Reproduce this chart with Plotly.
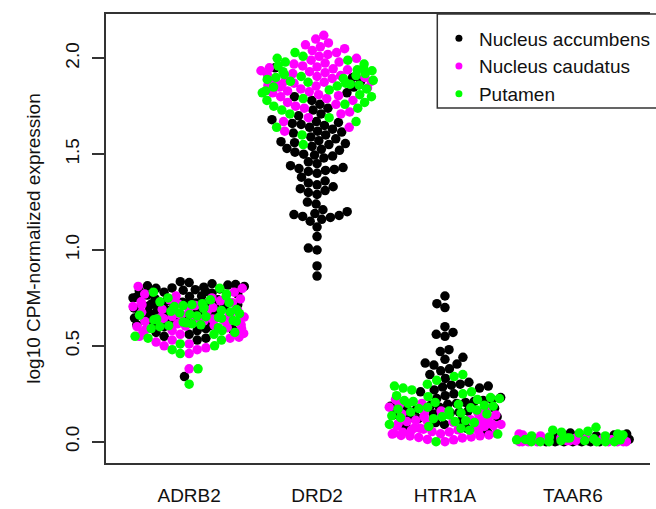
import math
import plotly.graph_objects as go

genes = ["ADRB2", "DRD2", "HTR1A", "TAAR6"]
tissues = ["Nucleus accumbens", "Nucleus caudatus", "Putamen"]
colors = ["#000000", "#FF00FF", "#00FF00"]

# ---- values (log10 CPM) ----
acc_adrb2 = [0.34, 0.53, 0.54, 0.55, 0.56, 0.57, 0.58, 0.585, 0.59, 0.60, 0.605, 0.61, 0.615, 0.62, 0.625,
             0.63, 0.632, 0.638, 0.64, 0.645, 0.65, 0.652, 0.657, 0.66, 0.663, 0.668, 0.67, 0.674, 0.678,
             0.68, 0.684, 0.688, 0.69, 0.694, 0.698, 0.70, 0.703, 0.708, 0.71, 0.714, 0.718, 0.72, 0.724,
             0.728, 0.73, 0.735, 0.74, 0.745, 0.75, 0.753, 0.757, 0.76, 0.765, 0.77, 0.775, 0.78, 0.783,
             0.787, 0.79, 0.793, 0.797, 0.80, 0.802, 0.806, 0.81, 0.813, 0.817, 0.82, 0.824, 0.83, 0.835]
cau_adrb2 = [0.38, 0.46, 0.48, 0.49, 0.50, 0.51, 0.52, 0.53, 0.54, 0.545, 0.55, 0.56, 0.565, 0.57, 0.58,
             0.585, 0.59, 0.595, 0.60, 0.603, 0.607, 0.61, 0.615, 0.62, 0.623, 0.627, 0.63, 0.633, 0.637,
             0.64, 0.643, 0.647, 0.65, 0.653, 0.657, 0.66, 0.664, 0.668, 0.67, 0.675, 0.68, 0.685, 0.69,
             0.695, 0.70, 0.705, 0.71, 0.715, 0.72, 0.725, 0.73, 0.735, 0.74, 0.745, 0.75, 0.76, 0.77,
             0.78, 0.80, 0.81]
put_adrb2 = [0.30, 0.38, 0.46, 0.48, 0.50, 0.51, 0.53, 0.54, 0.55, 0.56, 0.57, 0.58, 0.59, 0.595, 0.60,
             0.605, 0.61, 0.615, 0.62, 0.624, 0.628, 0.632, 0.636, 0.64, 0.644, 0.648, 0.652, 0.656,
             0.66, 0.664, 0.668, 0.672, 0.676, 0.68, 0.685, 0.69, 0.695, 0.70, 0.705, 0.71, 0.715, 0.72,
             0.725, 0.73, 0.74, 0.75, 0.76, 0.77, 0.78, 0.80]

acc_drd2 = [0.864, 0.917, 1.00, 1.01, 1.07, 1.12, 1.15, 1.16, 1.17, 1.175, 1.18, 1.185, 1.19, 1.20, 1.21,
            1.24, 1.25, 1.29, 1.30, 1.31, 1.32, 1.33, 1.34, 1.35, 1.36, 1.38, 1.40, 1.41, 1.415, 1.42,
            1.425, 1.43, 1.44, 1.45, 1.46, 1.48, 1.49, 1.495, 1.50, 1.51, 1.52, 1.525, 1.53, 1.54, 1.55,
            1.555, 1.56, 1.565, 1.57, 1.58, 1.59, 1.60, 1.61, 1.615, 1.62, 1.63, 1.64, 1.65, 1.655, 1.66,
            1.665, 1.67, 1.68, 1.70, 1.71, 1.73, 1.74, 1.76, 1.78, 1.80, 1.82, 1.85, 1.88, 1.90, 1.95]
cau_drd2 = [1.62, 1.64, 1.67, 1.69, 1.71, 1.72, 1.74, 1.75, 1.76, 1.77, 1.78, 1.79, 1.80, 1.805, 1.81,
            1.82, 1.825, 1.83, 1.84, 1.845, 1.85, 1.855, 1.86, 1.865, 1.87, 1.875, 1.88, 1.885, 1.89,
            1.895, 1.90, 1.905, 1.91, 1.915, 1.92, 1.925, 1.93, 1.935, 1.94, 1.945, 1.95, 1.955, 1.96,
            1.97, 1.975, 1.98, 1.99, 2.00, 2.01, 2.02, 2.03, 2.04, 2.05, 2.06, 2.07, 2.08, 2.10, 2.12]
put_drd2 = [1.55, 1.60, 1.64, 1.67, 1.69, 1.71, 1.73, 1.74, 1.75, 1.76, 1.77, 1.78, 1.79, 1.80, 1.81,
            1.82, 1.83, 1.835, 1.84, 1.85, 1.855, 1.86, 1.865, 1.87, 1.875, 1.88, 1.885, 1.89, 1.895,
            1.90, 1.905, 1.91, 1.915, 1.92, 1.93, 1.935, 1.94, 1.95, 1.96, 1.97, 1.98, 1.99, 2.00, 2.01,
            2.03]

acc_htr1a = [0.05, 0.07, 0.08, 0.09, 0.10, 0.11, 0.12, 0.125, 0.13, 0.14, 0.145, 0.15, 0.155, 0.16,
             0.165, 0.17, 0.175, 0.18, 0.185, 0.19, 0.195, 0.20, 0.205, 0.21, 0.215, 0.22, 0.225, 0.23,
             0.24, 0.25, 0.26, 0.27, 0.28, 0.285, 0.29, 0.295, 0.30, 0.31, 0.33, 0.35, 0.37, 0.38, 0.40,
             0.405, 0.41, 0.43, 0.44, 0.47, 0.48, 0.55, 0.56, 0.57, 0.60, 0.70, 0.72, 0.76]
cau_htr1a = [0.00, 0.01, 0.012, 0.02, 0.022, 0.025, 0.03, 0.031, 0.033, 0.035, 0.04, 0.041, 0.043, 0.045,
             0.05, 0.051, 0.053, 0.055, 0.06, 0.062, 0.065, 0.07, 0.072, 0.075, 0.08, 0.082, 0.085, 0.09,
             0.092, 0.095, 0.10, 0.102, 0.105, 0.11, 0.112, 0.115, 0.12, 0.125, 0.13, 0.135, 0.14, 0.145,
             0.15, 0.155, 0.16, 0.17, 0.18, 0.19, 0.20, 0.22]
put_htr1a = [0.00, 0.04, 0.06, 0.07, 0.08, 0.09, 0.10, 0.105, 0.11, 0.12, 0.125, 0.13, 0.135, 0.14,
             0.145, 0.15, 0.155, 0.16, 0.165, 0.17, 0.173, 0.177, 0.18, 0.185, 0.19, 0.195, 0.20, 0.205,
             0.21, 0.215, 0.22, 0.225, 0.23, 0.235, 0.24, 0.25, 0.26, 0.27, 0.28, 0.29, 0.30, 0.32, 0.34,
             0.35]

acc_taar6 = [0.00, 0.00, 0.00, 0.00, 0.00, 0.00, 0.00, 0.005, 0.005, 0.005, 0.01, 0.01, 0.01, 0.01,
             0.012, 0.015, 0.015, 0.02, 0.02, 0.025, 0.03, 0.035, 0.04, 0.045]
cau_taar6 = [0.00, 0.00, 0.00, 0.00, 0.00, 0.00, 0.00, 0.00, 0.005, 0.005, 0.005, 0.01, 0.01, 0.01,
             0.012, 0.015, 0.015, 0.02, 0.02, 0.022, 0.025, 0.03, 0.035, 0.04]
put_taar6 = [0.00, 0.00, 0.00, 0.00, 0.00, 0.00, 0.005, 0.005, 0.01, 0.01, 0.012, 0.015, 0.02, 0.02,
             0.025, 0.03, 0.03, 0.035, 0.04, 0.045, 0.05, 0.055, 0.06, 0.075]

data = {
    "ADRB2": [acc_adrb2, cau_adrb2, put_adrb2],
    "DRD2": [acc_drd2, cau_drd2, put_drd2],
    "HTR1A": [acc_htr1a, cau_htr1a, put_htr1a],
    "TAAR6": [acc_taar6, cau_taar6, put_taar6],
}

# ---- beeswarm layout (swarm placement with wrapped corral), in pixel space ----
PX_X = 129.3   # px per category unit
PX_Y = 191.7   # px per y unit
DIAM = 9.0
HALF = 57.0


def swarm(vals):
    n = len(vals)
    order = sorted(range(n), key=lambda i: vals[i])
    placed = []
    xs = [0.0] * n
    for i in order:
        y = vals[i] * PX_Y
        near = [(px, py) for px, py in placed if abs(py - y) < DIAM]
        cands = [0.0]
        for px, py in near:
            dx = math.sqrt(DIAM * DIAM - (py - y) ** 2)
            cands += [px + dx, px - dx]
        cands.sort(key=lambda c: (abs(c), c))
        xbest = cands[-1]
        for c in cands:
            if all((c - px) ** 2 + (y - py) ** 2 >= DIAM * DIAM - 1e-6 for px, py in near):
                xbest = c
                break
        placed.append((xbest, y))
        xs[i] = xbest
    out = []
    for x in xs:
        w = ((x + HALF) % (2 * HALF)) - HALF
        out.append(w / PX_X)
    return out


tx = [[], [], []]
ty = [[], [], []]
for gi, g in enumerate(genes):
    groups = data[g]
    allv = []
    lab = []
    for ti, vals in enumerate(groups):
        allv += vals
        lab += [ti] * len(vals)
    offs = swarm(allv)
    for v, o, t in zip(allv, offs, lab):
        tx[t].append(gi + 1 + o)
        ty[t].append(v)

fig = go.Figure()
for ti in range(3):
    fig.add_trace(go.Scatter(x=tx[ti], y=ty[ti], mode="markers",
                             marker=dict(color=colors[ti], size=9.5, line=dict(width=0)),
                             showlegend=False, hoverinfo="skip"))
for ti in range(3):
    fig.add_trace(go.Scatter(x=[None], y=[None], mode="markers", name=tissues[ti],
                             marker=dict(color=colors[ti], size=7)))

# legend frame: runs off the right edge of the picture like the original
fig.add_shape(type="rect", xref="paper", yref="paper", x0=0.609, x1=1.2, y0=0.7906, y1=1.0,
              line=dict(color="#333333", width=1.5), fillcolor="rgba(0,0,0,0)", layer="above")

font = "Liberation Sans, Arial, sans-serif"
fig.update_layout(
    width=656, height=509,
    margin=dict(l=106, r=0, t=14, b=46),
    plot_bgcolor="white", paper_bgcolor="white",
    font=dict(family=font, size=19, color="#111111"),
    xaxis=dict(range=[0.350, 4.603], tickvals=[1, 2, 3, 4], ticktext=genes,
               showline=True, linecolor="#333333", linewidth=1.5, mirror=True,
               ticks="", showgrid=False, zeroline=False, ticklabelstandoff=14,
               tickfont=dict(size=19)),
    yaxis=dict(range=[-0.111, 2.231], tickvals=[0, 0.5, 1, 1.5, 2],
               ticktext=["0.0", "0.5", "1.0", "1.5", "2.0"], tickangle=-90,
               showline=True, linecolor="#333333", linewidth=1.5, mirror=False,
               ticks="outside", ticklen=12, tickwidth=1.5, tickcolor="#333333",
               showgrid=False, zeroline=False, ticklabelstandoff=6,
               tickfont=dict(size=19),
               title=dict(text="log10 CPM-normalized expression", font=dict(size=19), standoff=16)),
    legend=dict(x=0.612, y=0.988, xanchor="left", yanchor="top", borderwidth=0,
                bgcolor="rgba(0,0,0,0)", font=dict(size=19), itemwidth=30,
                tracegroupgap=0),
)
fig.write_html("out.html")
